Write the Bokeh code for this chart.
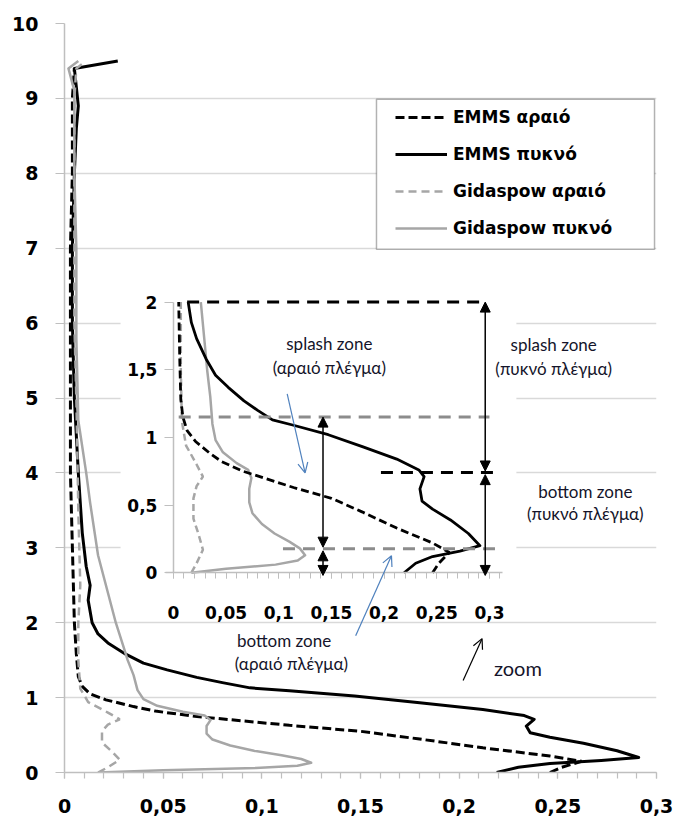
from bokeh.plotting import figure
from bokeh.models import (Range1d, LinearAxis, FixedTicker, CustomJSTickFormatter, Legend,
                          LegendItem, BoxAnnotation, Arrow, NormalHead, OpenHead, Label)
from bokeh.embed import file_html
from bokeh.resources import INLINE

# ---------------- data (x = value, y = height) ----------------
emms_sparse_x = [0.246, 0.252, 0.262, 0.246, 0.212, 0.179, 0.150, 0.114, 0.090, 0.066, 0.046,
                 0.035, 0.021, 0.013, 0.009, 0.007, 0.006, 0.005, 0.004, 0.003, 0.003, 0.003,
                 0.003, 0.004, 0.004, 0.005]
emms_sparse_y = [0.00, 0.07, 0.15, 0.22, 0.33, 0.45, 0.55, 0.63, 0.69, 0.75, 0.82,
                 0.88, 0.97, 1.05, 1.15, 1.28, 1.58, 2.00, 3.00, 4.00, 5.00, 6.00,
                 7.00, 8.00, 9.00, 9.40]

emms_dense_x = [0.219, 0.230, 0.246, 0.272, 0.291, 0.280, 0.263, 0.246, 0.236, 0.234, 0.238,
                0.233, 0.212, 0.180, 0.147, 0.114, 0.094, 0.080, 0.067, 0.052, 0.040, 0.031,
                0.022, 0.017, 0.014, 0.012, 0.013, 0.011, 0.009, 0.007, 0.005, 0.004, 0.004,
                0.005, 0.006, 0.007, 0.006, 0.005, 0.027]
emms_dense_y = [0.00, 0.07, 0.12, 0.16, 0.20, 0.29, 0.39, 0.47, 0.53, 0.62, 0.71,
                0.76, 0.84, 0.93, 1.02, 1.09, 1.13, 1.20, 1.27, 1.37, 1.46, 1.58,
                1.73, 1.85, 2.00, 2.30, 2.50, 2.75, 3.20, 4.00, 5.00, 6.00, 7.00,
                8.00, 8.60, 8.90, 9.15, 9.40, 9.50]

gid_sparse_x = [0.017, 0.022, 0.028, 0.024, 0.019, 0.019, 0.022, 0.028, 0.022, 0.012, 0.008,
                0.007, 0.007, 0.008, 0.007, 0.006, 0.005, 0.005, 0.005, 0.005, 0.006, 0.010]
gid_sparse_y = [0.00, 0.07, 0.17, 0.28, 0.40, 0.55, 0.64, 0.71, 0.80, 0.94, 1.12,
                1.50, 2.00, 2.50, 3.50, 5.00, 6.00, 7.00, 8.00, 9.00, 9.40, 9.48]

gid_dense_x = [0.017, 0.050, 0.097, 0.118, 0.125, 0.120, 0.110, 0.096, 0.084, 0.075, 0.072,
               0.072, 0.074, 0.071, 0.060, 0.047, 0.040, 0.037, 0.035, 0.032, 0.030, 0.026,
               0.022, 0.017, 0.013, 0.011, 0.007, 0.006, 0.006, 0.005, 0.005, 0.002, 0.007]
gid_dense_y = [0.00, 0.03, 0.06, 0.09, 0.13, 0.18, 0.23, 0.29, 0.36, 0.44, 0.52,
               0.62, 0.70, 0.76, 0.81, 0.89, 0.98, 1.10, 1.30, 1.50, 1.67, 2.00,
               2.40, 2.90, 3.60, 4.00, 4.70, 5.80, 7.00, 8.00, 9.10, 9.40, 9.50]

series_labels = ["EMMS αραιό", "EMMS πυκνό", "Gidaspow αραιό", "Gidaspow πυκνό"]

x_ticks = [0, 0.05, 0.1, 0.15, 0.2, 0.25, 0.3]
y_ticks = [0, 1, 2, 3, 4, 5, 6, 7, 8, 9, 10]
inset_y_ticks = [0, 0.5, 1, 1.5, 2]
inset_y_max = 2.0

# zone limits (heights, inset units)
sparse_bottom_top = 0.177
sparse_splash_top = 1.15
dense_bottom_top = 0.74
dense_splash_top = 2.0

zone_texts = [("splash zone", "(αραιό πλέγμα)"), ("splash zone", "(πυκνό πλέγμα)"),
              ("bottom zone", "(πυκνό πλέγμα)"), ("bottom zone", "(αραιό πλέγμα)")]

# ---------------- styles ----------------
BLACK = "#000000"
GREY = "#a6a6a6"
AXGREY = "#bfbfbf"
GRIDGREY = "#d9d9d9"
ZGREY = "#8c8c8c"
BLUE = "#4f81bd"
TXT = "#14142a"
TICKFONT = "DejaVu Sans"

p = figure(width=677, height=819, x_range=Range1d(0, 0.3), y_range=Range1d(0, 10),
           output_backend="svg", toolbar_location=None,
           min_border_left=64, min_border_right=21, min_border_top=23, min_border_bottom=47)
p.outline_line_color = None
p.background_fill_color = "white"
p.border_fill_color = "white"

# inset placement (main units): inset origin and scale
IX0, IXS = 0.0552, 0.5338
IY0, IYS = 2.667, 1.8067
p.extra_x_ranges = {"ix": Range1d((0 - IX0) / IXS, (0.3 - IX0) / IXS)}
p.extra_y_ranges = {"iy": Range1d((0 - IY0) / IYS, (10 - IY0) / IYS)}

fmt = CustomJSTickFormatter(code="var v = Math.round(tick*1000)/1000; return v.toString().replace('.', ',');")

# main axes
xa = p.xaxis[0]
xa.ticker = FixedTicker(ticks=x_ticks, minor_ticks=[i / 100 for i in range(31)])
xa.formatter = fmt
ya = p.yaxis[0]
ya.ticker = FixedTicker(ticks=y_ticks, minor_ticks=[])
ya.formatter = fmt
for ax in (xa, ya):
    ax.axis_line_color = AXGREY
    ax.axis_line_width = 1.5
    ax.major_tick_line_color = AXGREY
    ax.minor_tick_line_color = AXGREY
    ax.major_tick_line_width = 1.2
    ax.minor_tick_line_width = 1.2
    ax.major_tick_in = 0
    ax.minor_tick_in = 0
    ax.major_label_text_font = TICKFONT
    ax.major_label_text_font_style = "bold"
    ax.major_label_text_font_size = "19px"
    ax.major_label_text_color = BLACK
xa.major_tick_out = 6
xa.minor_tick_out = 6
xa.major_label_standoff = 20
ya.major_tick_out = 9
ya.minor_tick_out = 0
ya.major_label_standoff = 17

p.xgrid.visible = False
p.ygrid.ticker = FixedTicker(ticks=y_ticks)
p.ygrid.grid_line_color = GRIDGREY
p.ygrid.grid_line_width = 1.5

# white background of inset and legend frame
p.add_layout(BoxAnnotation(left=0.0284, right=0.229, bottom=2.04, top=6.49,
                           fill_color="white", fill_alpha=1, line_color=None, level="underlay"))
p.add_layout(BoxAnnotation(left=0.1581, right=0.2990, bottom=6.987, top=8.987,
                           fill_color="white", fill_alpha=1, line_color=BLACK, line_width=1.5,
                           level="underlay"))

# main curves
r_es = p.line(emms_sparse_x, emms_sparse_y, line_color=BLACK, line_width=3, line_dash="9 4")
r_ed = p.line(emms_dense_x, emms_dense_y, line_color=BLACK, line_width=3, line_join="round")
r_gs = p.line(gid_sparse_x, gid_sparse_y, line_color=GREY, line_width=2.5, line_dash="8 5")
r_gd = p.line(gid_dense_x, gid_dense_y, line_color=GREY, line_width=2.5, line_join="round")


def clip(xs, ys):
    pts = [(x, y) for x, y in zip(xs, ys) if y <= inset_y_max]
    return [a for a, _ in pts], [b for _, b in pts]


# inset curves (same data, heights 0..2)
kw = dict(x_range_name="ix", y_range_name="iy")
cx, cy = clip(gid_sparse_x, gid_sparse_y)
p.line(cx, cy, line_color=GREY, line_width=2.5, line_dash="7 4", **kw)
cx, cy = clip(gid_dense_x, gid_dense_y)
p.line(cx, cy, line_color=GREY, line_width=2.5, line_join="round", **kw)
cx, cy = clip(emms_sparse_x, emms_sparse_y)
p.line(cx, cy, line_color=BLACK, line_width=2.8, line_dash="8 4", **kw)
cx, cy = clip(emms_dense_x, emms_dense_y)
p.line(cx, cy, line_color=BLACK, line_width=2.8, line_join="round", **kw)

# inset axes
iax = LinearAxis(fixed_location=0, bounds=(-0.008, 0.312),
                 ticker=FixedTicker(ticks=x_ticks, minor_ticks=[i / 100 for i in range(32)]),
                 formatter=fmt, **kw)
iay = LinearAxis(fixed_location=0, bounds=(0, 2),
                 ticker=FixedTicker(ticks=inset_y_ticks, minor_ticks=[]), formatter=fmt, **kw)
for ax in (iax, iay):
    ax.axis_line_color = AXGREY
    ax.axis_line_width = 1.5
    ax.major_tick_line_color = AXGREY
    ax.minor_tick_line_color = AXGREY
    ax.major_tick_in = 0
    ax.minor_tick_in = 0
    ax.major_label_text_font = TICKFONT
    ax.major_label_text_font_style = "bold"
    ax.major_label_text_font_size = "17px"
    ax.major_label_text_color = BLACK
iax.major_tick_out = 6
iax.minor_tick_out = 6
iax.major_label_standoff = 27
iay.major_tick_out = 9
iay.minor_tick_out = 0
iay.major_label_standoff = 7
p.add_layout(iax, "below")
p.add_layout(iay, "left")

# zone boundary lines
p.line([0.013, 0.296], [dense_splash_top, dense_splash_top], line_color=BLACK, line_width=3,
       line_dash="12 8", **kw)
p.line([0.005, 0.300], [sparse_splash_top, sparse_splash_top], line_color=ZGREY, line_width=3,
       line_dash="12 8", **kw)
p.line([0.197, 0.310], [dense_bottom_top, dense_bottom_top], line_color=BLACK, line_width=3,
       line_dash="12 8", **kw)
p.line([0.104, 0.312], [sparse_bottom_top, sparse_bottom_top], line_color=ZGREY, line_width=3,
       line_dash="12 8", **kw)


def dbl_arrow(x, y0, y1):
    p.add_layout(Arrow(x_start=x, y_start=y0, x_end=x, y_end=y1,
                       start=NormalHead(size=10, fill_color=BLACK, line_color=BLACK),
                       end=NormalHead(size=10, fill_color=BLACK, line_color=BLACK),
                       line_color=BLACK, line_width=1.5, **kw))


dbl_arrow(0.296, dense_splash_top, dense_bottom_top + 0.012)
dbl_arrow(0.296, dense_bottom_top - 0.015, -0.02)
dbl_arrow(0.142, sparse_splash_top, sparse_bottom_top + 0.012)
dbl_arrow(0.142, sparse_bottom_top - 0.015, -0.02)

p.add_layout(Arrow(x_start=0.108, y_start=1.321, x_end=0.125, y_end=0.738,
                   end=OpenHead(size=10, line_color=BLUE, line_width=1.2),
                   line_color=BLUE, line_width=1.2, **kw))
p.add_layout(Arrow(x_start=0.173, y_start=-0.465, x_end=0.207, y_end=0.125,
                   end=OpenHead(size=10, line_color=BLUE, line_width=1.2),
                   line_color=BLUE, line_width=1.2, **kw))
p.add_layout(Arrow(x_start=0.275, y_start=-0.797, x_end=0.293, y_end=-0.487,
                   end=OpenHead(size=10, line_color=BLACK, line_width=1.2),
                   line_color=BLACK, line_width=1.2, **kw))

text_pos = [((0.148, 1.697), (0.148, 1.513)),
            ((0.361, 1.690), (0.361, 1.506)),
            ((0.391, 0.598), (0.391, 0.435)),
            ((0.105, -0.502), (0.112, -0.672))]
for (t1, t2), ((x1, y1), (x2, y2)) in zip(zone_texts, text_pos):
    for t, x, y in ((t1, x1, y1), (t2, x2, y2)):
        p.add_layout(Label(x=x, y=y, text=t, text_align="center", text_baseline="middle",
                           text_font="Lato", text_font_size="17px", text_color=TXT, **kw))
p.add_layout(Label(x=0.327, y=-0.701, text="zoom", text_align="center", text_baseline="middle",
                   text_font="Lato", text_font_size="20px", text_color=TXT, **kw))

legend = Legend(items=[LegendItem(label=series_labels[0], renderers=[r_es]),
                       LegendItem(label=series_labels[1], renderers=[r_ed]),
                       LegendItem(label=series_labels[2], renderers=[r_gs]),
                       LegendItem(label=series_labels[3], renderers=[r_gd])],
                location=(331, 534), padding=0, spacing=17, margin=0,
                glyph_width=52, glyph_height=20, label_height=20, label_standoff=6,
                border_line_alpha=0, background_fill_alpha=0,
                label_text_font=TICKFONT, label_text_font_style="bold",
                label_text_font_size="17px", label_text_color=BLACK)
p.add_layout(legend)

open("out.html", "w").write(file_html(p, INLINE))
